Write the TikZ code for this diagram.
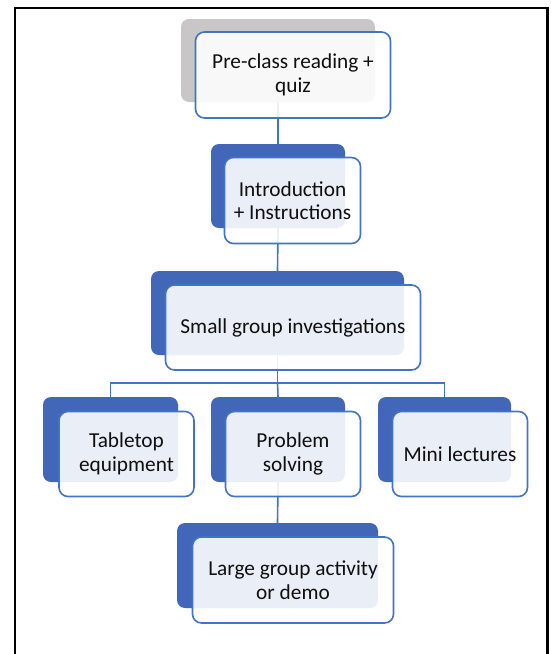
\documentclass[tikz,border=0pt]{standalone}
\usepackage{fontspec}
\setmainfont{Carlito}
\pgfdeclarelayer{bg}
\pgfsetlayers{bg,main}
\definecolor{backblue}{RGB}{66,103,184}
\definecolor{backgray}{RGB}{200,198,198}
\definecolor{edgeblue}{RGB}{68,114,196}
\definecolor{inktext}{RGB}{15,15,15}
\tikzset{
  backbox/.style={draw=none, rounded corners=8pt, inner sep=0pt, fill=backblue},
  greyback/.style={backbox, fill=backgray},
  frontbox/.style={draw=edgeblue, line width=1.6pt, rounded corners=9pt,
    fill=white, fill opacity=0.89, text opacity=1, inner sep=0pt,
    align=center, text=inktext, font=\fontsize{21.3}{23.5}\selectfont},
  link/.style={draw=edgeblue, line width=1.6pt},
}
\begin{document}
\begin{tikzpicture}[x=1pt, y=-1pt]
\useasboundingbox (0,0) rectangle (551,654);

% back plates
\node[greyback, minimum width=194pt, minimum height=83pt] (b1) at (278,60.5) {};
\node[backbox, minimum width=134pt, minimum height=84pt] (b2) at (278,186) {};
\node[backbox, minimum width=253pt, minimum height=84pt] (b3) at (277.5,313) {};
\node[backbox, minimum width=135pt, minimum height=85pt] (b4) at (110.5,439.5) {};
\node[backbox, minimum width=134pt, minimum height=85pt] (b5) at (278,439.5) {};
\node[backbox, minimum width=133pt, minimum height=85pt] (b6) at (444.5,439.5) {};
\node[backbox, minimum width=201pt, minimum height=85pt] (b7) at (277.5,565.5) {};

% page background, frame and connectors behind the plates
\begin{pgfonlayer}{bg}
  \fill[white] (0,0) rectangle (551,654);
  \draw[line width=2.4pt] (15,660) -- (15,8) -- (547.5,8) -- (547.5,660);
  \draw[link] (b1.south) -- (b2.north);
  \draw[link] (b2.south) -- (b3.north);
  \coordinate (hub) at (b3.south |- 0,383);
  \draw[link] (b3.south) -- (hub);
  \draw[link] (b4.north) |- (hub) -| (b6.north);
  \draw[link] (hub) -- (b5.north);
  \draw[link] (b5.south) -- (b7.north);
\end{pgfonlayer}

% front cards
\node[frontbox, minimum width=195pt, minimum height=86pt] (f1) at (293,75) {Pre-class reading +\\quiz};
\node[frontbox, minimum width=136pt, minimum height=86pt] (f2) at (292.5,200.5) {Introduction\\+ Instructions};
\node[frontbox, minimum width=255pt, minimum height=85pt] (f3) at (293,327.5) {Small group investigations};
\node[frontbox, minimum width=135pt, minimum height=85pt] (f4) at (126.5,454) {Tabletop\\equipment};
\node[frontbox, minimum width=135pt, minimum height=85pt] (f5) at (293,454) {Problem\\solving};
\node[frontbox, minimum width=135pt, minimum height=85pt] (f6) at (460,454) {Mini lectures};
\node[frontbox, minimum width=201pt, minimum height=86pt] (f7) at (293,580) {Large group activity\\or demo};
\end{tikzpicture}
\end{document}
